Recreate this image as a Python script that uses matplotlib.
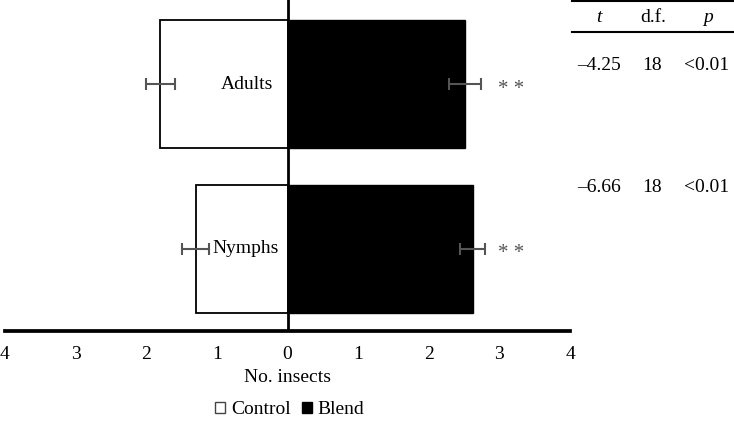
import matplotlib.pyplot as plt
from matplotlib.patches import Patch
from matplotlib.lines import Line2D

plt.rcParams['font.family'] = ['Liberation Serif', 'DejaVu Serif']
plt.rcParams['font.size'] = 14

# Data
groups = ['Nymphs', 'Adults']
control = [1.30, 1.80]
control_err = [0.19, 0.20]
blend = [2.62, 2.51]
blend_err = [0.18, 0.23]
t_vals = ['\u20136.66', '\u20134.25']
df_vals = ['18', '18']
p_vals = ['<0.01', '<0.01']

fig = plt.figure(figsize=(7.34, 4.22), dpi=100)
ax = fig.add_axes([5 / 734, 91 / 422, 565 / 734, 331 / 422])

ypos = [0, 1]
neg_control = [-v for v in control]
ax.barh(ypos, neg_control, height=0.78, color='white', edgecolor='black', linewidth=1.3, zorder=2)
ax.barh(ypos, blend, height=0.78, color='black', edgecolor='black', linewidth=1.0, zorder=2)
ax.errorbar(neg_control, ypos, xerr=control_err, fmt='none', ecolor='#555555',
            elinewidth=1.5, capsize=4, capthick=1.5, zorder=3)
ax.errorbar(blend, ypos, xerr=blend_err, fmt='none', ecolor='#555555',
            elinewidth=1.5, capsize=4, capthick=1.5, zorder=3)

# group labels and significance
label_x = [-0.13, -0.2]
for y, g, lx in zip(ypos, groups, label_x):
    ax.text(lx, y, g, ha='right', va='center', zorder=4)
    ax.text(3.17, y - 0.03, '* *', ha='center', va='center', color='#555555', fontsize=15)

ax.axvline(0, color='black', linewidth=2, zorder=4)
ax.set_xlim(-4, 4)
ax.set_ylim(-0.5, 1.512)
ax.set_xticks(range(-4, 5))
ax.set_xticklabels([str(abs(v)) for v in range(-4, 5)])
ax.tick_params(axis='x', length=0, pad=11)
ax.set_yticks([])
for s in ['top', 'left', 'right']:
    ax.spines[s].set_visible(False)
ax.spines['bottom'].set_linewidth(2.7)
ax.set_xlabel('No. insects', labelpad=4)

# legend
handles = [Patch(facecolor='white', edgecolor='#444444', label='Control'),
           Patch(facecolor='black', edgecolor='black', label='Blend')]
fig.legend(handles=handles, loc='center', bbox_to_anchor=(290 / 734, 1 - 410 / 422),
           ncol=2, frameon=False, handlelength=0.5, handleheight=0.5,
           handletextpad=0.3, columnspacing=0.6)

# stats table
def fx(px):
    return px / 734

def fy(py):
    return 1 - py / 422

fig.add_artist(Line2D([fx(572), 1], [fy(1), fy(1)], color='black', linewidth=1.5))
fig.add_artist(Line2D([fx(572), 1], [fy(32), fy(32)], color='black', linewidth=1.5))
fig.text(fx(599), fy(17), 't', style='italic', ha='center', va='center')
fig.text(fx(653), fy(17), 'd.f.', ha='center', va='center')
fig.text(fx(708), fy(17), 'p', style='italic', ha='center', va='center')
row_y = [188, 65]
for ry, tv, dv, pv in zip(row_y, t_vals, df_vals, p_vals):
    fig.text(fx(599), fy(ry), tv, ha='center', va='center')
    fig.text(fx(652), fy(ry), dv, ha='center', va='center')
    fig.text(fx(707), fy(ry), pv, ha='center', va='center')

fig.savefig('out.png', dpi=100)
